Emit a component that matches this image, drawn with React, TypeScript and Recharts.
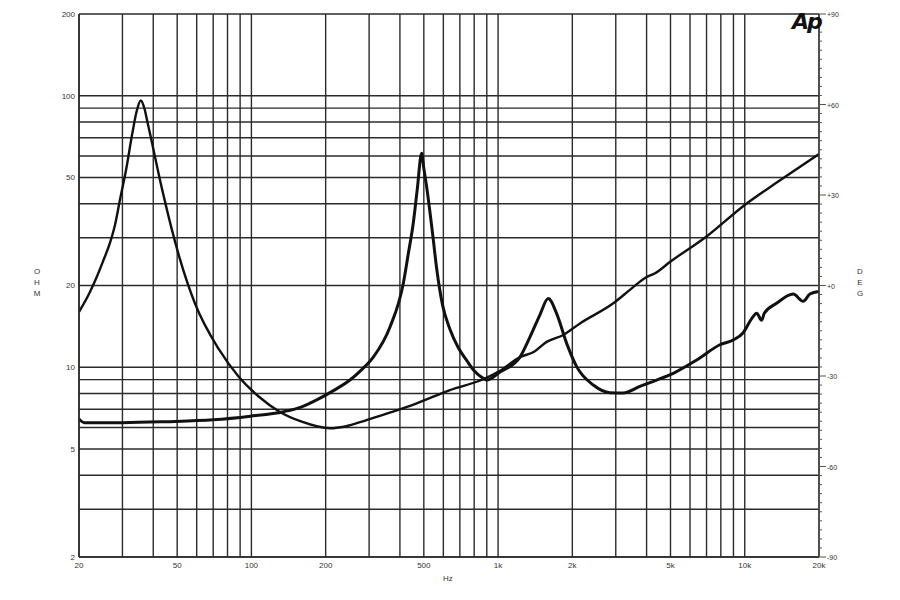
import React from 'react';
import { LineChart, Line, XAxis, YAxis, CartesianGrid } from 'recharts';

// woofer impedance (resonance ~35 Hz, rising with voice coil inductance)
const wooferFreq = [20, 22, 23.6, 25, 26.7, 28, 29.3, 31, 32.9, 34.3, 35.6, 36.8, 38, 39, 43.5, 51, 59, 74, 89, 107, 130, 160, 208, 240, 293, 375, 468, 638, 871, 1018, 1227, 1400, 1573, 1838, 2148, 2931, 3500, 4000, 4330, 5000, 7000, 10000, 14000, 20000];
const wooferOhm = [16, 18.7, 21.5, 24.5, 28.7, 33.5, 41.3, 53, 72.7, 88, 96, 90, 79, 71, 45, 25.5, 17.2, 11.6, 9.2, 7.8, 6.86, 6.3, 5.96, 6.05, 6.39, 6.86, 7.36, 8.24, 9.03, 9.7, 10.9, 11.4, 12.4, 13.15, 14.5, 17.2, 19.6, 21.5, 22.2, 24.5, 30.3, 39.6, 49, 61];

// second trace (peak ~490 Hz, bump ~1.6 kHz)
const trace2Freq = [20, 21, 30, 45, 70, 99, 135, 160, 184, 215, 251, 280, 312, 365, 413, 432, 453, 470, 490, 500, 512, 530, 545, 564, 595, 638, 690, 746, 800, 871, 899, 1018, 1227, 1346, 1478, 1597, 1726, 1897, 2082, 2432, 2841, 3217, 3759, 4393, 5131, 6383, 7930, 8977, 9857, 10670, 11180, 11710, 12000, 13460, 15720, 17250, 18370, 20000];
const trace2Ohm = [6.45, 6.25, 6.25, 6.3, 6.4, 6.6, 6.86, 7.15, 7.58, 8.2, 8.97, 9.8, 10.9, 14.1, 20.4, 26, 33.9, 45, 61.4, 54, 47, 37, 30, 23, 17, 13.8, 11.8, 10.6, 9.7, 9.1, 8.97, 9.6, 10.9, 12.9, 15.6, 17.9, 15.8, 12.24, 10.05, 8.6, 8.06, 8.04, 8.5, 8.97, 9.5, 10.63, 12.1, 12.6, 13.4, 15.1, 15.8, 14.9, 15.8, 17.2, 18.6, 17.5, 18.6, 19.0];

const xTicks = [20, 30, 40, 50, 60, 70, 80, 90, 100, 200, 300, 400, 500, 600, 700, 800, 900, 1000, 2000, 3000, 4000, 5000, 6000, 7000, 8000, 9000, 10000, 20000];
const xLabels: Record<number, string> = { 20: '20', 50: '50', 100: '100', 200: '200', 500: '500', 1000: '1k', 2000: '2k', 5000: '5k', 10000: '10k', 20000: '20k' };
const ohmTicks = [2, 3, 4, 5, 6, 7, 8, 9, 10, 20, 30, 40, 50, 60, 70, 80, 90, 100, 200];
const ohmLabels = [2, 5, 10, 20, 50, 100, 200];
const degLabels = [-90, -60, -30, 0, 30, 60, 90];
const degTicks = Array.from({ length: 61 }, (_, i) => -90 + i * 3);

const wooferData = wooferFreq.map((f, i) => ({ f, ohm: wooferOhm[i] }));
const trace2Data = trace2Freq.map((f, i) => ({ f, ohm: trace2Ohm[i] }));
// invisible anchor so the phase axis gets its range
const degAnchor = [
  { f: xTicks[0], deg: degLabels[0] },
  { f: xTicks[xTicks.length - 1], deg: degLabels[degLabels.length - 1] },
];

const ink = '#2b2b2b';
const labelStyle = { fontSize: 8, fill: '#333', fontFamily: 'Liberation Sans, Arial, sans-serif' };

const DegTick = (props: any) => {
  const { x, y, payload } = props;
  const v = payload.value;
  const major = degLabels.includes(v);
  return (
    <g>
      <line x1={x} y1={y} x2={x + (major ? 7 : 3)} y2={y} stroke="#555" strokeWidth={1} />
      {major && (
        <text x={x + 8} y={y} dy={3} {...labelStyle} fontSize={7}>
          {v > 0 ? '+' + v : v === 0 ? '+0' : String(v)}
        </text>
      )}
    </g>
  );
};

const vText: React.CSSProperties = {
  position: 'absolute',
  width: 12,
  fontSize: 8,
  lineHeight: '11px',
  textAlign: 'center',
  color: '#333',
  fontFamily: 'Liberation Sans, Arial, sans-serif',
};

export default function App() {
  return (
    <div style={{ position: 'fixed', left: 0, top: 0, width: 900, height: 600, background: '#fff' }}>
      <LineChart width={900} height={600} margin={{ top: 14, right: 41, bottom: 23, left: 49 }}>
        <CartesianGrid yAxisId="ohm" stroke={ink} strokeWidth={1.4} />
        <XAxis
          dataKey="f"
          type="number"
          scale="log"
          domain={[20, 20000]}
          ticks={xTicks}
          interval={0}
          allowDataOverflow
          height={20}
          tickSize={0}
          tickMargin={5}
          tickLine={false}
          axisLine={{ stroke: ink, strokeWidth: 1.6 }}
          tick={labelStyle}
          tickFormatter={(v: number) => xLabels[v] ?? ''}
        />
        <YAxis
          yAxisId="ohm"
          type="number"
          scale="log"
          domain={[2, 200]}
          ticks={ohmTicks}
          interval={0}
          allowDataOverflow
          width={30}
          tickSize={0}
          tickMargin={4}
          tickLine={false}
          axisLine={{ stroke: ink, strokeWidth: 1.6 }}
          tick={labelStyle}
          tickFormatter={(v: number) => (ohmLabels.includes(v) ? String(v) : '')}
        />
        <YAxis
          yAxisId="deg"
          orientation="right"
          type="number"
          domain={[-90, 90]}
          ticks={degTicks}
          interval={0}
          allowDataOverflow
          width={40}
          tickSize={0}
          tickMargin={0}
          tickLine={false}
          axisLine={{ stroke: '#444', strokeWidth: 1.4 }}
          tick={DegTick}
        />
        <Line
          yAxisId="deg"
          data={degAnchor}
          dataKey="deg"
          stroke="none"
          strokeWidth={0}
          dot={false}
          activeDot={false}
          legendType="none"
          isAnimationActive={false}
        />
        <Line
          yAxisId="ohm"
          data={wooferData}
          dataKey="ohm"
          type="monotone"
          stroke="#111"
          strokeWidth={2.4}
          dot={false}
          isAnimationActive={false}
        />
        <Line
          yAxisId="ohm"
          data={trace2Data}
          dataKey="ohm"
          type="monotone"
          stroke="#111"
          strokeWidth={3}
          dot={false}
          isAnimationActive={false}
        />
      </LineChart>
      <div style={{ ...vText, left: 31, top: 266 }}>O<br />H<br />M</div>
      <div style={{ ...vText, left: 854, top: 266 }}>D<br />E<br />G</div>
      <div style={{ position: 'absolute', left: 443, top: 574, fontSize: 8, color: '#333', fontFamily: 'Liberation Sans, Arial, sans-serif' }}>Hz</div>
      <div
        style={{
          position: 'absolute',
          left: 792,
          top: 9,
          fontSize: 22,
          fontWeight: 900,
          fontStyle: 'italic',
          letterSpacing: -2,
          color: '#111',
          fontFamily: 'DejaVu Sans, Liberation Sans, sans-serif',
        }}
      >
        Ap
      </div>
    </div>
  );
}
